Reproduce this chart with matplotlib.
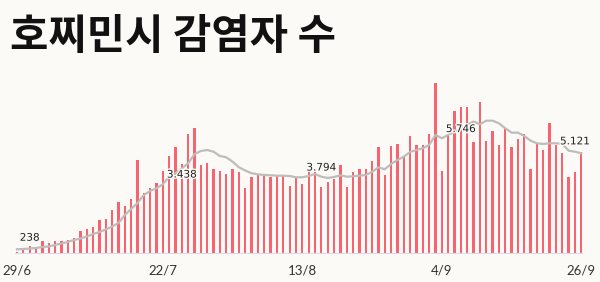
import matplotlib.pyplot as plt
import matplotlib.patheffects as pe

# ca nhiễm mỗi ngày, 29/6 -> 26/9
cases = [100, 190, 380, 300, 650, 550, 610, 650, 680, 790,
         1160, 1260, 1330, 1710, 1760, 2180, 2610, 2390, 2770, 4730,
         3090, 3310, 3570, 4200, 4920, 5410, 4540, 6060, 6350, 4470,
         4610, 4280, 4200, 4040, 4280, 4150, 3330, 3890, 3990, 3930,
         3890, 3930, 3980, 3400, 3860, 3520, 4150, 4120, 3350, 3620,
         3770, 4480, 3350, 4120, 4270, 4300, 4710, 5380, 3980, 5430,
         5550, 4940, 5960, 5520, 5480, 6060, 8620, 4170, 5990, 7220,
         7410, 7410, 5670, 7660, 5720, 6230, 5510, 6370, 5380, 5820,
         6060, 4300, 5550, 5260, 6640, 5510, 5100, 3860, 4120, 5160]

# trung bình 7 ngày
avg7 = [213, 228, 254, 279, 330, 355, 431, 507, 583, 684,
        761, 862, 989, 1090, 1217, 1369, 1546, 1952, 2256, 2560,
        2966, 3169, 3306, 3508, 3894, 4066, 4320, 4573, 5045, 5197,
        5247, 5161, 4943, 4877, 4654, 4370, 4208, 4066, 4015, 3980,
        3965, 3944, 3944, 3929, 3863, 3863, 3929, 4031, 3894, 3828,
        3879, 3965, 3894, 3914, 3944, 3980, 4132, 4370, 4269, 4538,
        4740, 4908, 5146, 5247, 5334, 5501, 6008, 5841, 6008, 6175,
        6297, 6515, 6692, 6550, 6733, 6733, 6601, 6348, 6125, 6125,
        5957, 5719, 5587, 5552, 5587, 5587, 5552, 5212, 5161, 5080]

tick_days = [0, 23, 45, 67, 89]
tick_labels = ["29/6", "22/7", "13/8", "4/9", "26/9"]

label_days = [2, 26, 48, 70, 88]
label_values = [238, 3438, 3794, 5746, 5121]

bg = "#fbfaf6"
days = list(range(len(cases)))

fig = plt.figure(figsize=(6, 2.82), dpi=100, facecolor=bg)
ax = fig.add_axes([10.66 / 600, 28.5 / 282, 577 / 600, 173.6 / 282])
ax.set_facecolor(bg)

ax.bar(days, cases, width=0.36, color="#f7636f", zorder=2)
ax.plot(days, avg7, color="#bdbdbd", lw=1.6, zorder=3)
ax.hlines(0, -0.3, 89.3, color="#d9dbea", lw=1.6, zorder=4)

#nhãn số liệu
for d, v in zip(label_days, label_values):
    txt = f"{v:,}".replace(",", ".")
    ax.annotate(txt, (d, v), xytext=(0, 8), textcoords="offset points",
                ha="center", va="center", fontsize=7.5, color="#222222",
                family="DejaVu Sans", zorder=5,
                path_effects=[pe.withStroke(linewidth=2, foreground=bg)])

ax.set_xlim(-1, 90)
ax.set_ylim(0, 8800)
ax.set_xticks(tick_days)
ax.set_xticklabels(tick_labels, fontsize=9.5, color="#333333", family="Lato")
ax.tick_params(axis="x", length=0, pad=8)
ax.set_yticks([])
for s in ax.spines.values():
    s.set_visible(False)

fig.text(10 / 600, 1 - 37 / 282, "호찌민시 감염자 수", fontsize=30,
         fontweight="black", family="Noto Sans CJK KR", va="center",
         ha="left", color="#111111")

fig.savefig("out.png", dpi=100, facecolor=bg)
